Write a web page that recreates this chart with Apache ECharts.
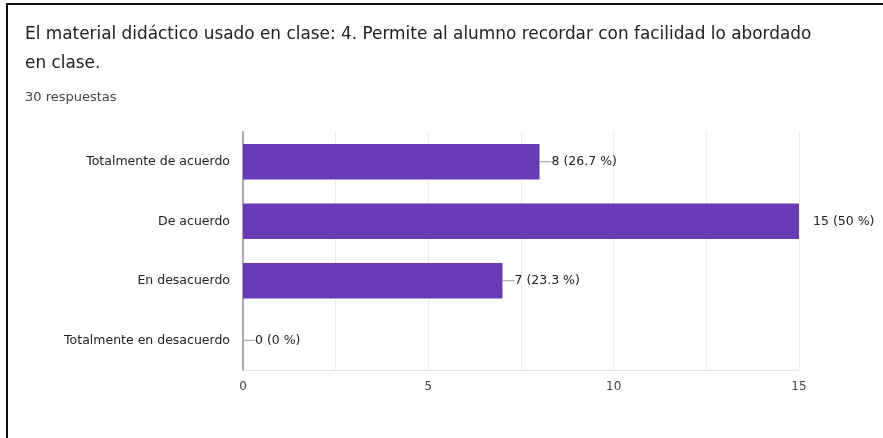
<!DOCTYPE html>
<html>
<head>
<meta charset="utf-8">
<script src="https://cdn.jsdelivr.net/npm/echarts@6/dist/echarts.min.js"></script>
<style>
  html, body { margin: 0; padding: 0; background: #fff; }
  #frame {
    position: absolute; left: 6px; top: 3px; width: 877px; height: 435px;
    border-left: 2px solid #111; border-top: 2px solid #111;
  }
  #chart { position: absolute; left: 0; top: 0; width: 883px; height: 438px; }
</style>
</head>
<body>
<div id="frame"></div>
<div id="chart"></div>
<script>
// datos de la encuesta
var categorias = ['Totalmente de acuerdo', 'De acuerdo', 'En desacuerdo', 'Totalmente en desacuerdo']
var respuestas = [8, 15, 7, 0]
var porcentajes = ['26.7', '50', '23.3', '0']
var ticks = [0, 5, 10, 15]

var myChart = echarts.init(document.getElementById('chart'))

var serieData = respuestas.map(function (v, i) {
  var item = { value: v }
  // la barra mas larga no lleva linea guia
  if (v === 15) {
    item.label = { distance: 14 }
    item.labelLine = { show: false }
  }
  return item
})

var option = {
  animation: false,
  title: [{
    text: 'El material didáctico usado en clase: 4. Permite al alumno recordar con facilidad lo abordado\nen clase.',
    left: 20,
    top: 15,
    textStyle: {
      fontFamily: 'DejaVu Sans',
      fontSize: 16.9,
      fontWeight: 'normal',
      color: '#202124',
      lineHeight: 29
    }
  }, {
    text: '30 respuestas',
    left: 20,
    top: 86,
    textStyle: {
      fontFamily: 'DejaVu Sans',
      fontSize: 13,
      fontWeight: 'normal',
      color: '#444'
    }
  }],
  grid: {
    left: 243,
    right: 84,
    top: 132,
    bottom: 68
  },
  xAxis: {
    type: 'value',
    min: 0,
    max: 15,
    interval: 5,
    axisLine: { show: true, lineStyle: { color: '#e6e6e6', width: 1 } },
    axisTick: { show: false },
    axisLabel: {
      fontFamily: 'DejaVu Sans',
      fontSize: 12,
      color: '#444',
      margin: 11,
      formatter: function (v) { return ticks.indexOf(v) >= 0 ? String(v) : '' }
    },
    splitLine: { lineStyle: { color: '#ececec', width: 1 } },
    minorTick: { show: false, splitNumber: 2 },
    minorSplitLine: { show: true, lineStyle: { color: '#ececec', width: 1 } }
  },
  yAxis: {
    type: 'category',
    inverse: true,
    data: categorias,
    axisLine: { show: true, lineStyle: { color: '#aaa', width: 2 } },
    axisTick: { show: false },
    axisLabel: {
      fontFamily: 'DejaVu Sans',
      fontSize: 12.5,
      color: '#222',
      margin: 13
    }
  },
  series: [{
    type: 'bar',
    data: serieData,
    barCategoryGap: '40%',
    itemStyle: { color: '#673ab7' },
    label: {
      show: true,
      position: 'right',
      distance: 0,
      fontFamily: 'DejaVu Sans',
      fontSize: 12.5,
      color: '#222',
      formatter: function (p) {
        return p.value + ' (' + porcentajes[p.dataIndex] + ' %)'
      }
    },
    labelLayout: function (params) {
      if (respuestas[params.dataIndex] === 15) return {}
      return { dx: 12 }
    },
    labelLine: {
      show: true,
      lineStyle: { color: '#999', width: 1 }
    }
  }]
}
myChart.setOption(option)
</script>
</body>
</html>
